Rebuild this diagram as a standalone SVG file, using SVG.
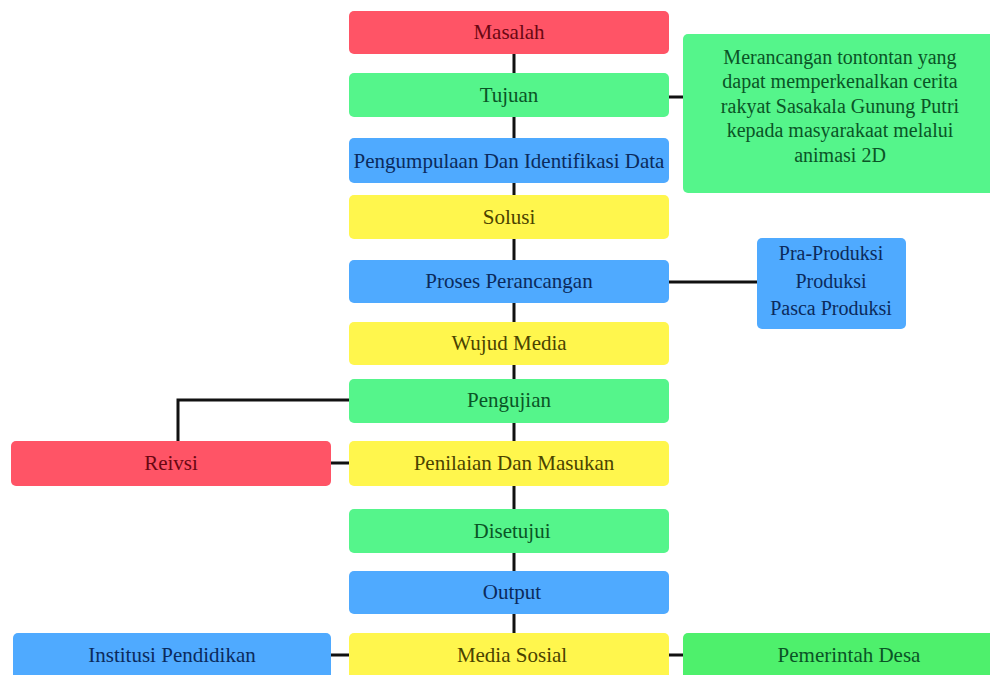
<svg xmlns="http://www.w3.org/2000/svg" width="990" height="675" viewBox="0 0 990 675">
<style>
.red{fill:#ff5466}.grn{fill:#55f58b}.blu{fill:#4faaff}.yel{fill:#fff64d}.grn2{fill:#4ef06c}
text{font-family:"Liberation Serif","Times New Roman",serif;font-size:21px;text-anchor:middle}
.tr{fill:#6a0712}.tg{fill:#0a5426}.tb{fill:#0b2a5c}.ty{fill:#4a4300}
.c{stroke:#111;stroke-width:3;fill:none}
</style>
<rect width="990" height="675" fill="#ffffff"/>
<g id="connectors">
<path class="c" d="M514 54V73M514 117V138M514 183V195M514 239V260M514 303V322M514 365V379M514 423V441M514 486V509M514 553V571M514 614V633"/>
<path class="c" d="M669 97H683M669 282H757M349 400H178V441M331 463H349M331 655H349M669 655H683"/>
</g>
<g id="masalah"><rect class="red" x="349" y="11" width="320" height="43" rx="5"/><text class="tr" x="509" y="39">Masalah</text></g>
<g id="tujuan"><rect class="grn" x="349" y="73" width="320" height="44" rx="5"/><text class="tg" x="509" y="102">Tujuan</text></g>
<g id="tujuan-detail"><rect class="grn" x="683" y="34" width="312" height="159" rx="5"/>
<text class="tg" font-size="20" x="840" y="64" style="font-size:20px">Merancangan tontontan yang</text>
<text class="tg" x="840" y="88" style="font-size:20px">dapat memperkenalkan cerita</text>
<text class="tg" x="840" y="113" style="font-size:20px">rakyat Sasakala Gunung Putri</text>
<text class="tg" x="840" y="137" style="font-size:20px">kepada masyarakaat melalui</text>
<text class="tg" x="840" y="162" style="font-size:20px">animasi 2D</text></g>
<g id="pengumpulan"><rect class="blu" x="349" y="138" width="320" height="45" rx="5"/><text class="tb" x="509" y="168">Pengumpulaan Dan Identifikasi Data</text></g>
<g id="solusi"><rect class="yel" x="349" y="195" width="320" height="44" rx="5"/><text class="ty" x="509" y="224">Solusi</text></g>
<g id="proses"><rect class="blu" x="349" y="260" width="320" height="43" rx="5"/><text class="tb" x="509" y="288">Proses Perancangan</text></g>
<g id="produksi"><rect class="blu" x="757" y="238" width="149" height="91" rx="5"/>
<text class="tb" x="831" y="260" style="font-size:20px">Pra-Produksi</text>
<text class="tb" x="831" y="288" style="font-size:20px">Produksi</text>
<text class="tb" x="831" y="315" style="font-size:20px">Pasca Produksi</text></g>
<g id="wujud"><rect class="yel" x="349" y="322" width="320" height="43" rx="5"/><text class="ty" x="509" y="350">Wujud Media</text></g>
<g id="pengujian"><rect class="grn" x="349" y="379" width="320" height="44" rx="5"/><text class="tg" x="509" y="407">Pengujian</text></g>
<g id="reivsi"><rect class="red" x="11" y="441" width="320" height="45" rx="5"/><text class="tr" x="171" y="470">Reivsi</text></g>
<g id="penilaian"><rect class="yel" x="349" y="441" width="320" height="45" rx="5"/><text class="ty" x="514" y="470">Penilaian Dan Masukan</text></g>
<g id="disetujui"><rect class="grn" x="349" y="509" width="320" height="44" rx="5"/><text class="tg" x="512" y="538">Disetujui</text></g>
<g id="output"><rect class="blu" x="349" y="571" width="320" height="43" rx="5"/><text class="tb" x="512" y="599">Output</text></g>
<g id="institusi"><rect class="blu" x="13" y="633" width="318" height="46" rx="5"/><text class="tb" x="172" y="662">Institusi Pendidikan</text></g>
<g id="media-sosial"><rect class="yel" x="349" y="633" width="320" height="46" rx="5"/><text class="ty" x="512" y="662">Media Sosial</text></g>
<g id="pemerintah"><rect class="grn2" x="683" y="633" width="332" height="46" rx="5"/><text class="tg" x="849" y="662">Pemerintah Desa</text></g>
</svg>
